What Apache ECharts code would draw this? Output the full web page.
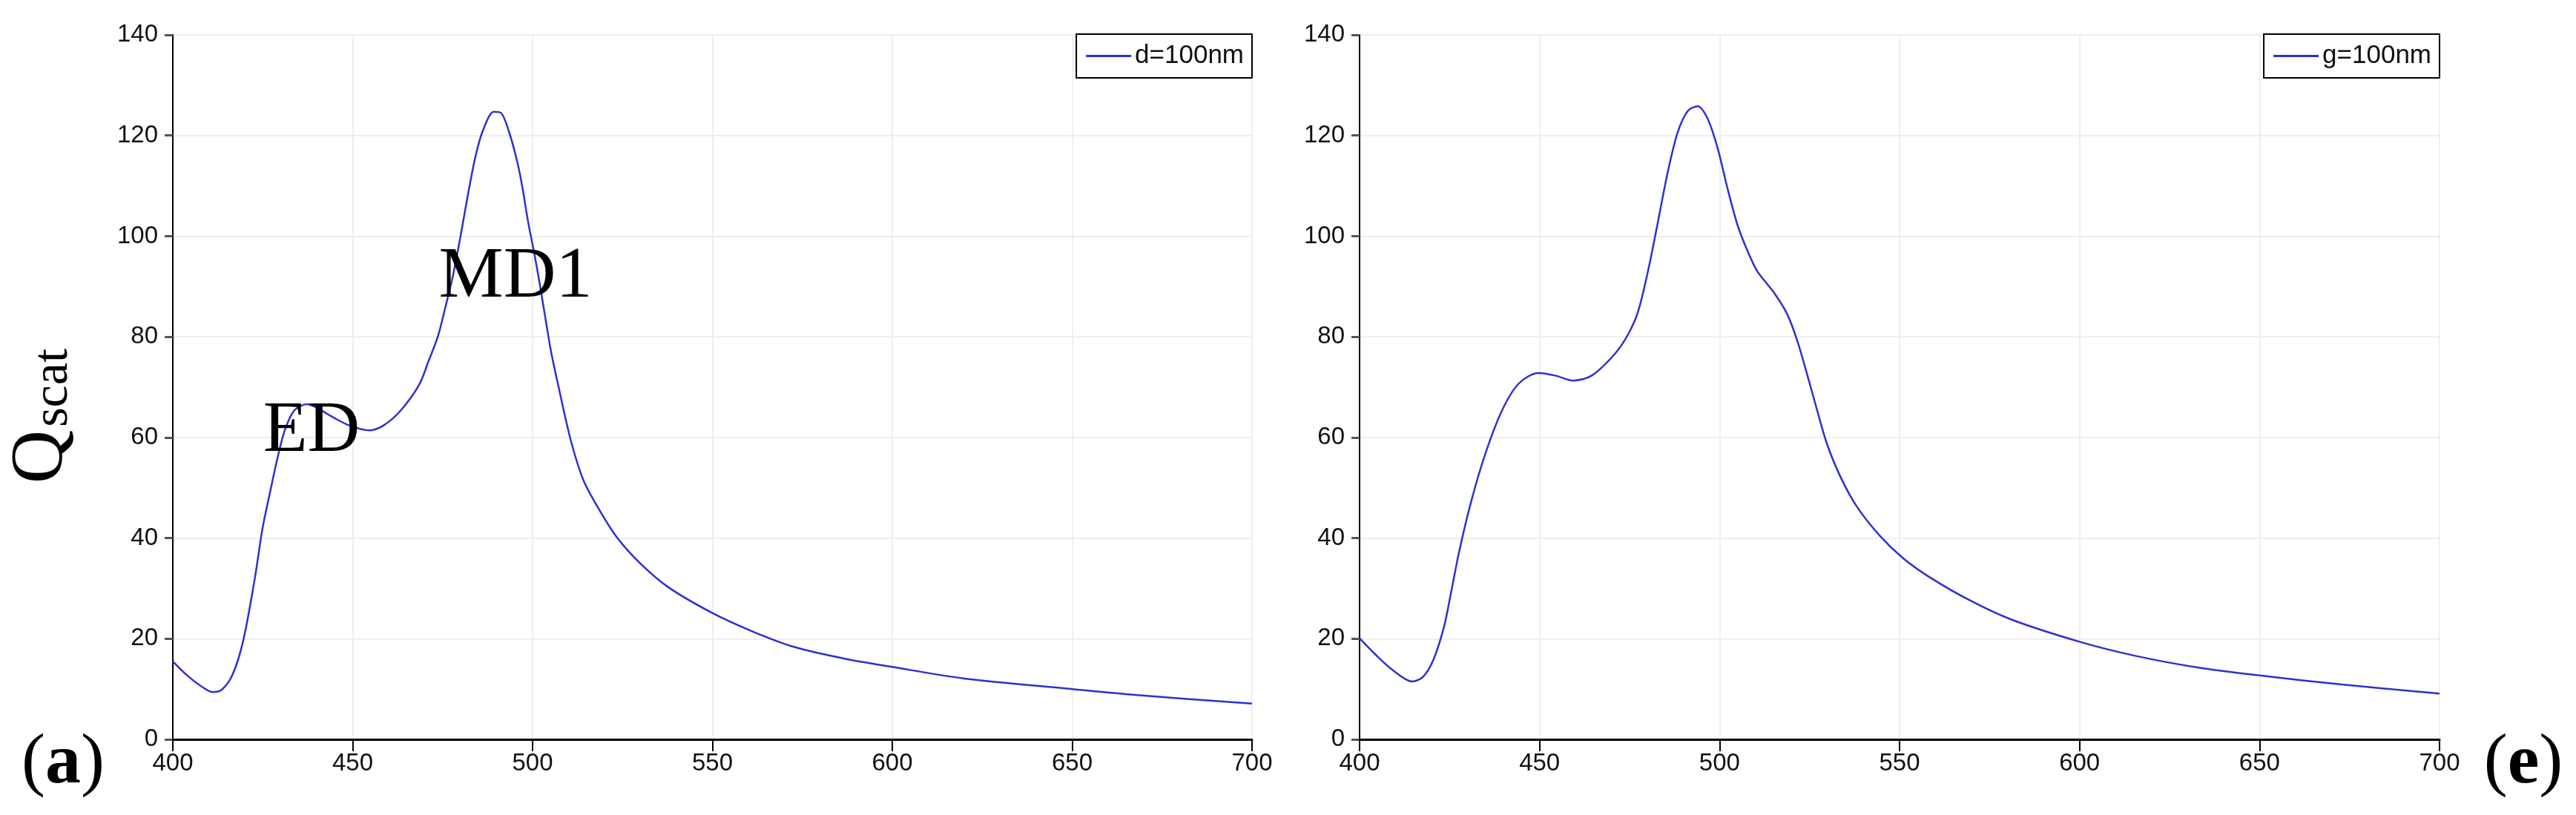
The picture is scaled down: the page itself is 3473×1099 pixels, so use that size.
<!DOCTYPE html>
<html>
<head>
<meta charset="utf-8">
<script src="https://cdn.jsdelivr.net/npm/echarts@6/dist/echarts.min.js"></script>
<style>
html,body{margin:0;padding:0;background:#fff;}
#chart{width:3473px;height:1099px;}
</style>
</head>
<body>
<div id="chart"></div>
<script>
// ---- data ----
const xTicks = [400, 450, 500, 550, 600, 650, 700];
const yTicks = [0, 20, 40, 60, 80, 100, 120, 140];

const lambdaD = [400, 404, 408, 411, 413.5, 416.5, 419.5, 422.8, 424.9, 426.9, 429, 431.1, 433.8, 437.3, 440.7, 444.8, 449, 454.5, 458.6, 463.4, 468.5, 471, 473.7, 475.8, 477.8, 479.9, 482, 484, 486.1, 489.2, 491.2, 493.6, 495.7, 497.1, 498.8, 500.5, 502, 503.5, 505, 507, 510.6, 514.2, 518.9, 523.6, 529.6, 537.6, 550, 561.3, 573, 587, 600, 620, 650, 668, 700];
const qscatD  = [15.5, 12.7, 10.5, 9.4, 9.8, 12.7, 19.4, 32.0, 41.8, 48.7, 55.6, 61.4, 65.4, 66.6, 65.6, 63.9, 62.4, 61.4, 62.4, 65.4, 70.5, 75.0, 80.1, 86.0, 91.9, 99.7, 108.1, 115.4, 120.8, 124.7, 124.5, 120.4, 114.9, 110.0, 102.7, 96.5, 90.5, 84.0, 77.6, 70.8, 59.5, 51.4, 45.2, 40.0, 35.2, 30.3, 25.1, 21.4, 18.3, 16.0, 14.4, 12.1, 10.0, 8.8, 7.1];

const lambdaG = [400, 404.5, 409.3, 414.6, 417.6, 420.5, 423.5, 425.5, 427.6, 430.9, 435, 439.6, 444.2, 449.7, 454.3, 459.4, 464.5, 470.9, 474.6, 477.4, 480.1, 482.9, 485.6, 488.4, 491.2, 493.9, 496.7, 499.5, 502.2, 505, 507.8, 510.5, 515.1, 518.8, 521.6, 524.3, 527.1, 529.8, 533.5, 538.1, 544.6, 551, 558.2, 569.6, 581.1, 600, 615.5, 632.7, 650, 672.9, 700];
const qscatG  = [20.1, 16.8, 13.7, 11.5, 12.4, 15.8, 22.5, 29.5, 37.1, 47.0, 56.9, 65.4, 70.7, 72.8, 72.3, 71.3, 72.3, 76.6, 80.5, 85.1, 93.0, 102.9, 112.7, 120.7, 124.9, 125.8, 123.3, 117.4, 109.5, 102.2, 97.0, 93.0, 88.8, 84.5, 79.2, 72.6, 65.4, 58.8, 52.3, 46.3, 40.4, 36.0, 32.3, 27.6, 23.8, 19.4, 16.6, 14.3, 12.7, 10.9, 9.1];

const seriesNames = ['d=100nm', 'g=100nm'];
const panelLabels = ['a', 'e'];
const peakLabels = ['MD1', 'ED'];
const yTitleMain = 'Q';
const yTitleSub = 'scat';

// ---- chart ----
const LINE = '#3030d0';
const SANS = '"Liberation Sans", Arial, sans-serif';
const SERIF = '"Liberation Serif", "Times New Roman", serif';

function pairs(xs, ys) { return xs.map((x, i) => [x, ys[i]]); }

function xAxisCfg(idx) {
  return {
    type: 'value', gridIndex: idx,
    min: xTicks[0], max: xTicks[xTicks.length - 1], interval: xTicks[1] - xTicks[0],
    axisLine: { show: true, onZero: false, lineStyle: { color: '#000', width: 3 } },
    axisTick: { show: true, inside: false, length: 16, lineStyle: { color: '#000', width: 2 } },
    axisLabel: { color: '#111', fontFamily: SANS, fontSize: 33, margin: 16 },
    splitLine: { show: true, lineStyle: { color: '#efefef', width: 2 } }
  };
}
function yAxisCfg(idx) {
  return {
    type: 'value', gridIndex: idx,
    min: yTicks[0], max: yTicks[yTicks.length - 1], interval: yTicks[1] - yTicks[0],
    axisLine: { show: true, lineStyle: { color: '#000', width: 2 } },
    axisTick: { show: true, inside: false, length: 11, lineStyle: { color: '#555', width: 3 } },
    axisLabel: { color: '#111', fontFamily: SANS, fontSize: 33, margin: 20 },
    splitLine: { show: true, lineStyle: { color: '#efefef', width: 2 } }
  };
}
function legendCfg(name, right) {
  return {
    data: [{ name: name, icon: 'rect' }],
    right: right, top: 46,
    orient: 'horizontal',
    padding: [12, 11, 12, 13],
    borderColor: '#000', borderWidth: 2,
    backgroundColor: '#fff',
    itemWidth: 61, itemHeight: 3,
    textStyle: { color: '#111', fontFamily: SANS, fontSize: 35 }
  };
}

const chart = echarts.init(document.getElementById('chart'), null, { renderer: 'canvas' });
chart.setOption({
  backgroundColor: '#fff',
  animation: false,
  grid: [
    { left: 233, right: 1785, top: 47, bottom: 102 },
    { left: 1833, right: 184, top: 47, bottom: 102 }
  ],
  xAxis: [xAxisCfg(0), xAxisCfg(1)],
  yAxis: [yAxisCfg(0), yAxisCfg(1)],
  legend: [legendCfg(seriesNames[0], 1785), legendCfg(seriesNames[1], 184)],
  series: [
    { name: seriesNames[0], type: 'line', xAxisIndex: 0, yAxisIndex: 0, data: pairs(lambdaD, qscatD),
      showSymbol: false, smooth: 0.3, lineStyle: { color: LINE, width: 2.5 }, itemStyle: { color: LINE } },
    { name: seriesNames[1], type: 'line', xAxisIndex: 1, yAxisIndex: 1, data: pairs(lambdaG, qscatG),
      showSymbol: false, smooth: 0.3, lineStyle: { color: LINE, width: 2.5 }, itemStyle: { color: LINE } }
  ],
  graphic: [
    { type: 'text', x: 56, y: 616, rotation: Math.PI / 2, z: 100,
      style: { text: yTitleMain, fontFamily: SERIF, fontSize: 100, fill: '#000', align: 'center', verticalAlign: 'middle' } },
    { type: 'text', x: 72, y: 523, rotation: Math.PI / 2, z: 100,
      style: { text: yTitleSub, fontFamily: SERIF, fontSize: 68, fill: '#000', align: 'center', verticalAlign: 'middle' } },
    { type: 'text', x: 695, y: 374, z: 100,
      style: { text: peakLabels[0], fontFamily: SERIF, fontSize: 98, fill: '#000', align: 'center', verticalAlign: 'middle' } },
    { type: 'text', x: 420, y: 582, z: 100,
      style: { text: peakLabels[1], fontFamily: SERIF, fontSize: 98, fill: '#000', align: 'center', verticalAlign: 'middle' } },
    { type: 'text', x: 85, y: 1030, z: 100,
      style: { text: '{p|(}{b|' + panelLabels[0] + '}{p|)}', align: 'center', verticalAlign: 'middle',
        rich: { p: { fontFamily: SERIF, fontSize: 96, fill: '#000', color: '#000' },
                b: { fontFamily: SERIF, fontSize: 96, fontWeight: 'bold', fill: '#000', color: '#000' } } } },
    { type: 'text', x: 3402, y: 1030, z: 100,
      style: { text: '{p|(}{b|' + panelLabels[1] + '}{p|)}', align: 'center', verticalAlign: 'middle',
        rich: { p: { fontFamily: SERIF, fontSize: 96, fill: '#000', color: '#000' },
                b: { fontFamily: SERIF, fontSize: 96, fontWeight: 'bold', fill: '#000', color: '#000' } } } }
  ]
});
</script>
</body>
</html>
